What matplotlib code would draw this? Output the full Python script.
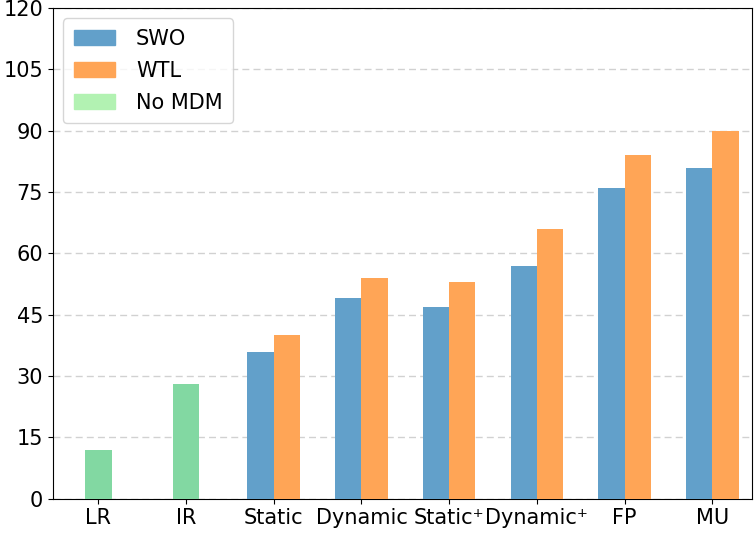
import numpy as np
import matplotlib
matplotlib.use('Agg')
import matplotlib.pyplot as plt
from matplotlib.patches import Patch

categories = ['LR', 'IR', 'Static', 'Dynamic', 'Static\u207a', 'Dynamic\u207a', 'FP', 'MU']
baseline_vals = [12, 28]          # No MDM (LR, IR)
swo_vals = [36, 49, 47, 57, 76, 81]
wtl_vals = [40, 54, 53, 66, 84, 90]

blue = '#62a0ca'
orange = '#ffa556'
green_bar = '#82d8a2'
green_leg = '#b2f2b2'

fig, ax = plt.subplots(figsize=(7.54, 5.38), dpi=100)
fig.subplots_adjust(left=0.070, right=0.997, top=0.985, bottom=0.073)

x = np.arange(len(categories))
w = 0.3

ax.bar(x[:2], baseline_vals, w, color=green_bar, zorder=3)
ax.bar(x[2:] - w / 2, swo_vals, w, color=blue, zorder=3)
ax.bar(x[2:] + w / 2, wtl_vals, w, color=orange, zorder=3)

ax.set_xticks(x)
ax.set_xticklabels(categories, fontsize=15)
ax.set_yticks(np.arange(0, 121, 15))
ax.tick_params(axis='y', labelsize=15)
ax.set_ylim(0, 120)
ax.set_xlim(-0.52, 7.45)
ax.yaxis.grid(True, linestyle=(0, (5, 3)), color='#cccccc', linewidth=1, alpha=0.9, zorder=0)
ax.set_axisbelow(True)

handles = [Patch(color=blue, label='SWO'),
           Patch(color=orange, label='WTL'),
           Patch(color=green_leg, label='No MDM')]
ax.legend(handles=handles, loc='upper left', fontsize=15, handlelength=2.0,
          handletextpad=1.0, labelspacing=0.58, borderpad=0.5)

plt.savefig('out.png', dpi=100)
